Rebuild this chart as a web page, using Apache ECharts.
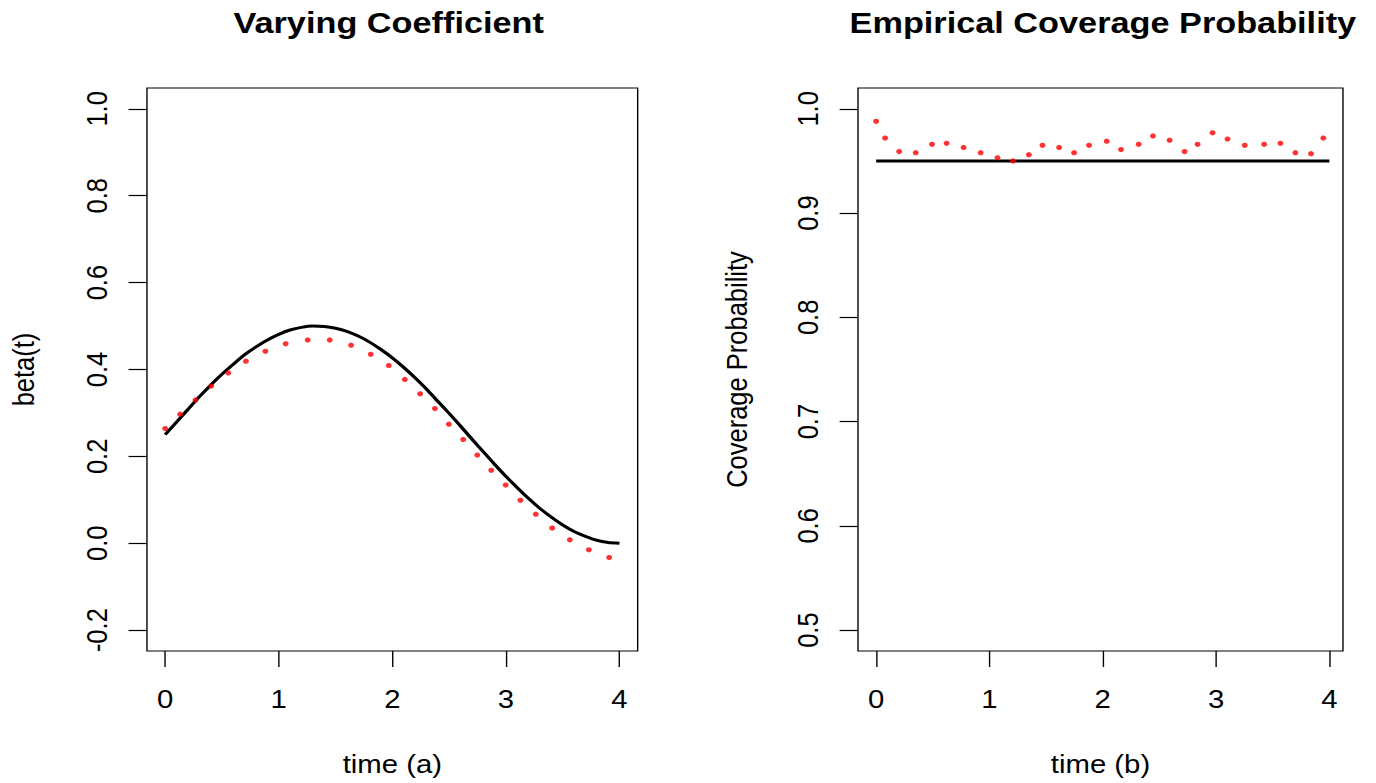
<!DOCTYPE html>
<html>
<head>
<meta charset="utf-8">
<script src="https://cdn.jsdelivr.net/npm/echarts@6/dist/echarts.min.js"></script>
<style>
  html, body { margin: 0; padding: 0; background: #fff; overflow: hidden; }
  #wrap { width: 1376px; height: 783px; overflow: hidden; }
  #c { width: 1196.5px; height: 783px; transform: scaleX(1.15); transform-origin: 0 0; }
</style>
</head>
<body>
<div id="wrap"><div id="c"></div></div>
<script>
// ---- data ----
const tCurve = [0, 0.1, 0.2, 0.3, 0.4, 0.5, 0.6, 0.7, 0.8, 0.9, 1.0, 1.1, 1.2, 1.3, 1.4, 1.5, 1.6, 1.7, 1.8, 1.9, 2.0,
                2.1, 2.2, 2.3, 2.4, 2.5, 2.6, 2.7, 2.8, 2.9, 3.0, 3.1, 3.2, 3.3, 3.4, 3.5, 3.6, 3.7, 3.8, 3.9, 4.0];
const betaTrue = [0.250, 0.279, 0.308, 0.337, 0.364, 0.389, 0.412, 0.434, 0.452, 0.468, 0.481, 0.491, 0.497, 0.500, 0.499, 0.495, 0.488, 0.477, 0.463, 0.446, 0.427,
                  0.405, 0.381, 0.355, 0.327, 0.299, 0.270, 0.240, 0.211, 0.182, 0.154, 0.128, 0.103, 0.080, 0.060, 0.042, 0.027, 0.016, 0.007, 0.002, 0.000];

const tEst = [0, 0.132, 0.267, 0.406, 0.556, 0.711, 0.882, 1.061, 1.255, 1.449, 1.637, 1.810, 1.969, 2.110, 2.245, 2.375, 2.498, 2.624, 2.748, 2.871, 2.998, 3.127, 3.263, 3.407, 3.563, 3.730, 3.909];
const betaEst = [0.264, 0.297, 0.330, 0.362, 0.392, 0.419, 0.442, 0.459, 0.468, 0.468, 0.456, 0.435, 0.409, 0.377, 0.344, 0.310, 0.274, 0.239, 0.203, 0.168, 0.134, 0.099, 0.067, 0.035, 0.008, -0.015, -0.033];

const tCov = [0, 0.079, 0.203, 0.349, 0.493, 0.622, 0.772, 0.922, 1.071, 1.207, 1.348, 1.468, 1.615, 1.747, 1.879, 2.035, 2.161, 2.317, 2.443, 2.590, 2.722, 2.837, 2.969, 3.101, 3.253, 3.424, 3.568, 3.700, 3.838, 3.947];
const covProb = [0.988, 0.972, 0.959, 0.958, 0.966, 0.967, 0.963, 0.958, 0.953, 0.950, 0.956, 0.965, 0.963, 0.958, 0.965, 0.969, 0.961, 0.966, 0.974, 0.970, 0.959, 0.966, 0.977, 0.971, 0.965, 0.966, 0.967, 0.958, 0.957, 0.972];

const nominalT = [0, 4];
const nominalLevel = [0.95, 0.95];

const xTicks = [0, 1, 2, 3, 4];
const yTicksLeft = [-0.2, 0.0, 0.2, 0.4, 0.6, 0.8, 1.0];
const yTicksRight = [0.5, 0.6, 0.7, 0.8, 0.9, 1.0];

const titles = ['Varying Coefficient', 'Empirical Coverage Probability'];
const xNames = ['time (a)', 'time (b)'];
const yNames = ['beta(t)', 'Coverage Probability'];

// ---- chart ----
const FONT = '"Liberation Sans", Arial, Helvetica, sans-serif';
const FS = 25.5;
const zip = (a, b) => a.map((v, i) => [v, b[i]]);

function xAxis(idx, min, max) {
  return {
    type: 'value', gridIndex: idx, min: min, max: max,
    name: xNames[idx], nameLocation: 'middle', nameGap: 100,
    nameTextStyle: { fontSize: FS, fontFamily: FONT, color: '#000' },
    axisLine: { show: false, onZero: false },
    axisTick: { show: true, length: 16, inside: false, customValues: xTicks, lineStyle: { color: '#000', width: 1.2 } },
    axisLabel: { show: true, margin: 35, fontSize: FS, fontFamily: FONT, color: '#000', customValues: xTicks, formatter: v => String(Math.round(v)) },
    splitLine: { show: false }
  };
}
function yAxis(idx, min, max, ticks, gap) {
  return {
    type: 'value', gridIndex: idx, min: min, max: max,
    name: yNames[idx], nameLocation: 'middle', nameGap: gap, nameRotate: 90,
    nameTextStyle: { fontSize: FS, fontFamily: FONT, color: '#000' },
    axisLine: { show: false, onZero: false },
    axisTick: { show: true, length: 16, inside: false, customValues: ticks, lineStyle: { color: '#000', width: 1.2 } },
    axisLabel: { show: true, rotate: 90, margin: 31, fontSize: FS, fontFamily: FONT, color: '#000', customValues: ticks, formatter: v => v.toFixed(1) },
    splitLine: { show: false }
  };
}

const chart = echarts.init(document.getElementById('c'), null, { renderer: 'svg' });
chart.setOption({
  animation: false,
  backgroundColor: '#fff',
  textStyle: { fontFamily: FONT },
  title: [
    { text: titles[0], left: 338, top: 8, textAlign: 'center', padding: 0,
      textStyle: { fontSize: 29.8, fontWeight: 'bold', fontFamily: FONT, color: '#000' } },
    { text: titles[1], left: 959, top: 8, textAlign: 'center', padding: 0,
      textStyle: { fontSize: 29.8, fontWeight: 'bold', fontFamily: FONT, color: '#000' } }
  ],
  grid: [
    { left: 127.8, top: 88, width: 426.7, height: 563, show: true, borderColor: '#000', borderWidth: 1.2, backgroundColor: 'transparent', containLabel: false },
    { left: 746.1, top: 88, width: 421.7, height: 563, show: true, borderColor: '#000', borderWidth: 1.2, backgroundColor: 'transparent', containLabel: false }
  ],
  xAxis: [xAxis(0, -0.16, 4.16), xAxis(1, -0.16, 4.12)],
  yAxis: [
    yAxis(0, -0.248, 1.048, yTicksLeft, 94),
    yAxis(1, 0.48, 1.02, yTicksRight, 92)
  ],
  series: [
    { type: 'line', xAxisIndex: 0, yAxisIndex: 0, data: zip(tCurve, betaTrue), smooth: 0.2,
      showSymbol: false, symbol: 'none', lineStyle: { color: '#000', width: 3 }, z: 2 },
    { type: 'scatter', xAxisIndex: 0, yAxisIndex: 0, data: zip(tEst, betaEst), symbol: 'circle', symbolSize: 5.2,
      itemStyle: { color: '#ff0000' }, z: 3 },
    { type: 'line', xAxisIndex: 1, yAxisIndex: 1, data: zip(nominalT, nominalLevel),
      showSymbol: false, symbol: 'none', lineStyle: { color: '#000', width: 3 }, z: 2 },
    { type: 'scatter', xAxisIndex: 1, yAxisIndex: 1, data: zip(tCov, covProb), symbol: 'circle', symbolSize: 5.2,
      itemStyle: { color: '#ff0000' }, z: 3 }
  ]
});
</script>
</body>
</html>
